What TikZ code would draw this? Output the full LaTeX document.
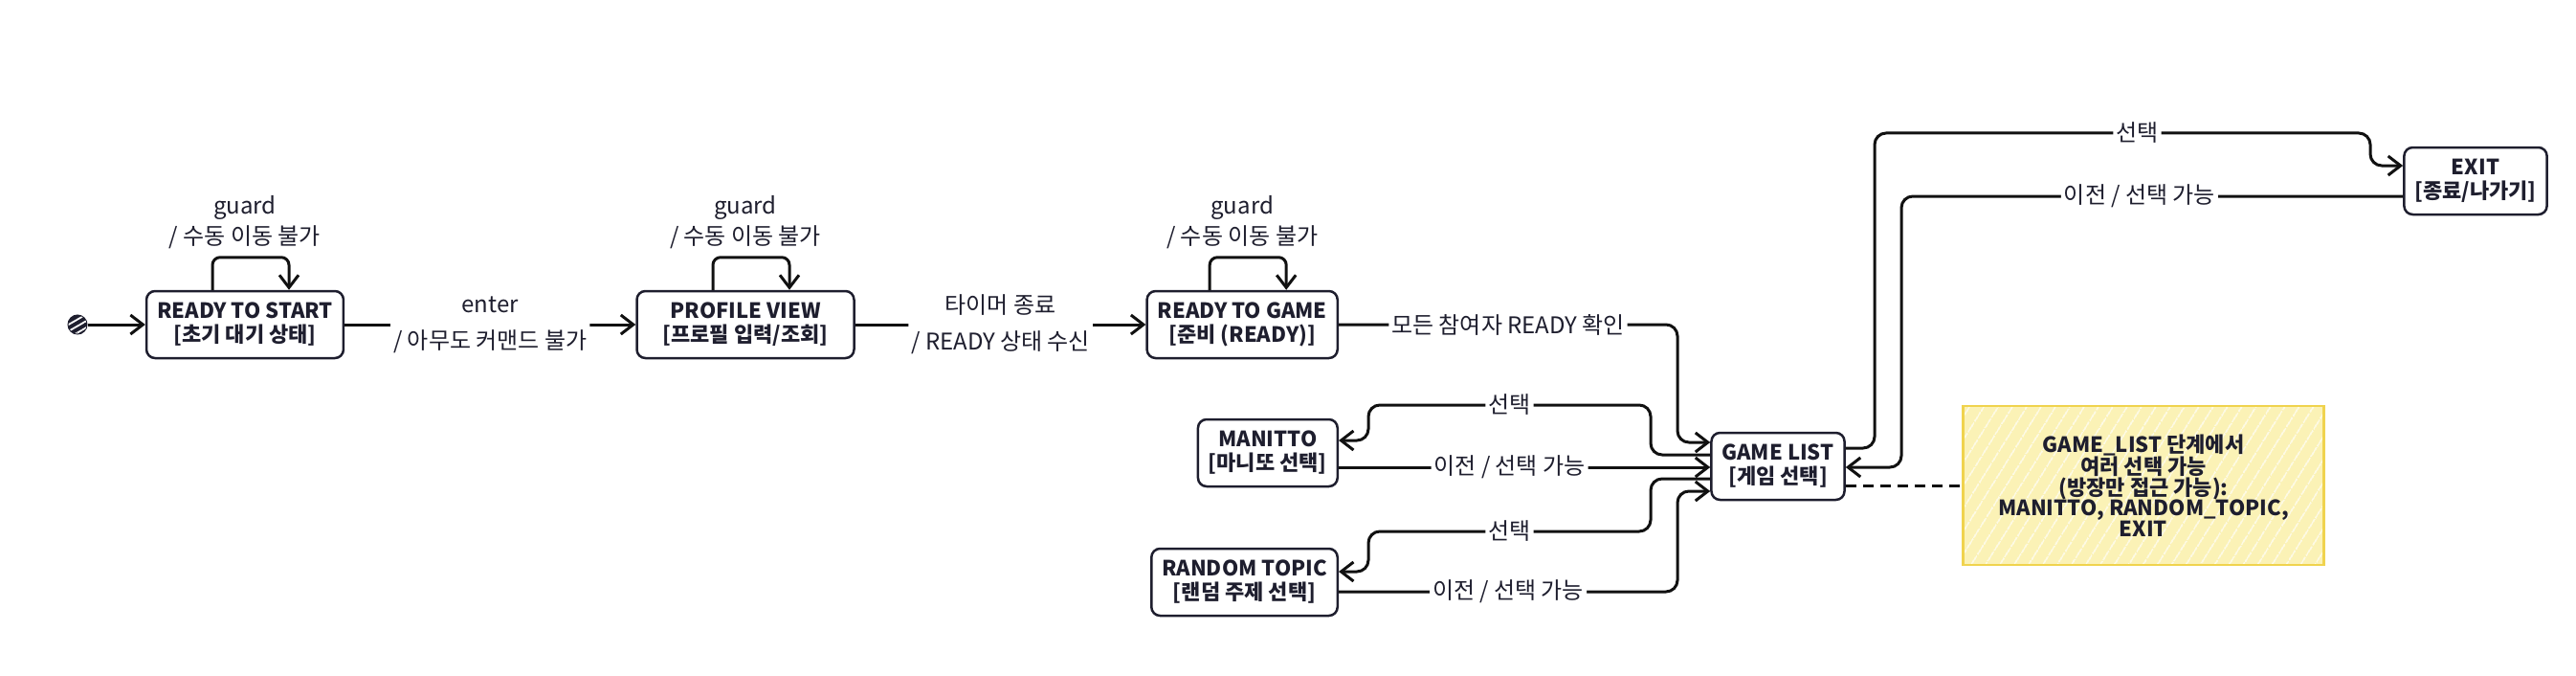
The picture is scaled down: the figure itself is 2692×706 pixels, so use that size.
\documentclass[tikz,border=0pt]{standalone}
\usepackage{fontspec}
\setmainfont{Noto Sans CJK KR}
\usetikzlibrary{arrows.meta, calc, patterns.meta}
\definecolor{ink}{HTML}{1E1E2E}
\definecolor{wire}{HTML}{111111}
\definecolor{notefill}{HTML}{FBF2B6}
\definecolor{notedraw}{HTML}{F0D34E}
\tikzset{
    >={Straight Barb[length=13pt, width=20pt]},
    state/.style={draw=ink, text=ink, line width=2.5pt, rounded corners=9pt, inner xsep=11pt,
        minimum height=70pt, align=center, font=\fontsize{22}{25}\selectfont\bfseries},
    trans/.style={wire, line width=3pt, rounded corners=12pt},
    trlabel/.style={fill=white, text=ink, inner sep=3pt, align=center, font=\fontsize{24}{38}\selectfont},
    guardlabel/.style={trlabel, font=\fontsize{24}{32}\selectfont},
    initdot/.style={circle, minimum size=19pt, inner sep=0pt, draw=ink, line width=2pt, fill=ink,
        postaction={pattern={Lines[angle=30, distance=6pt, line width=1.8pt]}, pattern color=white}},
    memo/.style={draw=notedraw, line width=2.5pt, text=ink, align=center,
        preaction={fill=notefill},
        preaction={pattern={Lines[angle=58, distance=13pt, line width=1.3pt]}, pattern color=white},
        font=\fontsize{22}{21.5}\selectfont\bfseries},
}
\begin{document}
\begin{tikzpicture}[x=1pt, y=-1pt]
    \useasboundingbox (0,0) rectangle (2692,706);
    % states
    \node[initdot] (init) at (81,339) {};
    \node[state] (rts) at (256,339) {READY TO START\\{[}초기 대기 상태]};
    \node[state, minimum width=227pt] (pv) at (779,339) {PROFILE VIEW\\{[}프로필 입력/조회]};
    \node[state, anchor=east] (rtg) at (1399,339) {READY TO GAME\\{[}준비 (READY)]};
    \node[state, anchor=east] (man) at (1399,473) {MANITTO\\{[}마니또 선택]};
    \node[state, anchor=east] (rnd) at (1399,608) {RANDOM TOPIC\\{[}랜덤 주제 선택]};
    \node[state] (gl) at (1858,487) {GAME LIST\\{[}게임 선택]};
    \node[state] (exit) at (2587,189) {EXIT\\{[}종료/나가기]};
    \node[memo, minimum width=377pt, minimum height=166pt] (note) at (2240,507)
        {GAME\_LIST 단계에서\\여러 선택 가능\\(방장만 접근 가능):\\MANITTO, RANDOM\_TOPIC,\\EXIT};
    % guard loops
    \foreach \s in {rts, pv, rtg} {
        \draw[trans, ->, rounded corners=8pt] ([xshift=-34pt]\s.north) -- ++(0,-34) -| ([xshift=46pt]\s.north);
        \node[guardlabel, anchor=south] at ([yshift=40pt]\s.north) {guard\\/ 수동 이동 불가};
    }
    % main flow
    \draw[trans, ->] (init) -- (rts);
    \draw[trans, ->] (rts) -- node[trlabel] {enter\\/ 아무도 커맨드 불가} (pv);
    \draw[trans, ->] (pv) -- node[trlabel] {타이머 종료\\/ READY 상태 수신} (rtg);
    \draw[trans, ->] (rtg) -- node[trlabel] {모든 참여자 READY 확인} (1753,339) |- ([yshift=25pt]gl.west);
    % game list branches
    \draw[trans, ->] ([yshift=12pt]gl.west) -| (1725,423) -- node[trlabel] {선택} (1430,423) |- ([yshift=13pt]man.east);
    \draw[trans, ->] ([yshift=-15pt]man.east) coordinate (mr) -- node[trlabel, pos=0.46] {이전 / 선택 가능} (mr -| gl.west);
    \draw[trans, ->] ([yshift=-13pt]gl.west) -| (1725,555) -- node[trlabel] {선택} (1430,555) |- ([yshift=11pt]rnd.east);
    \draw[trans, ->] ([yshift=-10pt]rnd.east) -- node[trlabel] {이전 / 선택 가능} (1753,618) |- ([yshift=-26pt]gl.west);
    \draw[trans, ->] ([yshift=19pt]gl.east) -| (1959,139) -- node[trlabel, pos=0.53] {선택} (2477,139) |- ([yshift=16pt]exit.west);
    \draw[trans, ->] ([yshift=-16pt]exit.west) -- node[trlabel, pos=0.525] {이전 / 선택 가능} (1987,205) |- ([yshift=-1pt]gl.east);
    \draw[wire, line width=3pt, dash pattern=on 11pt off 7pt] ([yshift=-20pt]gl.east) coordinate (gd) -- (gd -| note.west);
\end{tikzpicture}
\end{document}
